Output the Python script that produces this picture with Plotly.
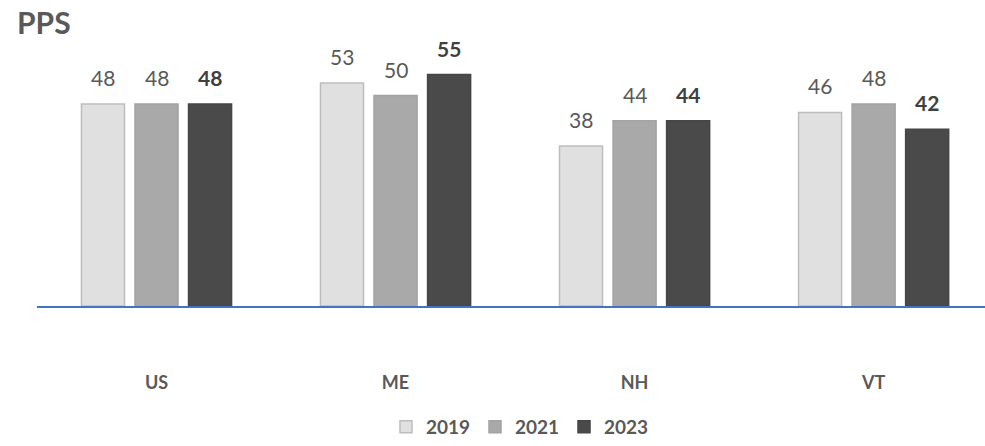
import plotly.graph_objects as go

# Chart data
categories = ["US", "ME", "NH", "VT"]
years = ["2019", "2021", "2023"]
values_2019 = [48, 53, 38, 46]
values_2021 = [48, 50, 44, 48]
values_2023 = [48, 55, 44, 42]

series = [
    ("2019", values_2019, "#e0e0e0", "#bdbdbd", "{}", "#595959"),
    ("2021", values_2021, "#a9a9a9", "#a3a3a3", "{}", "#595959"),
    ("2023", values_2023, "#4a4a4a", "#464646", "<b>{}</b>", "#404040"),
]

# Layout geometry
W, H = 985, 446
ML, MR, MT, MB = 37, 0, 40, 136
X_RANGE = [-0.5, 3.466]
BARGAP = 0.328
BARGROUPGAP = 0.196

plot_w = W - ML - MR
cat_px = plot_w / (X_RANGE[1] - X_RANGE[0])
slot_px = cat_px * (1 - BARGAP) / len(series)

FONT = "Lato, Open Sans, sans-serif"

fig = go.Figure()
for i, (name, vals, fill, edge, tmpl, tcolor) in enumerate(series):
    fig.add_trace(go.Bar(
        name=name,
        x=categories,
        y=vals,
        marker=dict(color=fill, line=dict(color=edge, width=1.5)),
        cliponaxis=False,
    ))
    # value labels above each bar, sitting a little higher than the default outside text
    for cat, v in zip(categories, vals):
        fig.add_annotation(
            x=cat, y=v, xref="x", yref="y",
            text=tmpl.format(v),
            showarrow=False,
            xanchor="center", yanchor="bottom",
            xshift=(i - (len(series) - 1) / 2) * slot_px,
            yshift=12,
            font=dict(family=FONT, size=21, color=tcolor),
        )

fig.add_annotation(
    text="<b>PPS</b>",
    xref="paper", yref="paper",
    x=(15 - ML) / plot_w, y=1 + (MT - 22) / (H - MT - MB),
    xanchor="left", yanchor="middle",
    showarrow=False,
    font=dict(family=FONT, size=30, color="#595959"),
)

fig.update_layout(
    width=W,
    height=H,
    margin=dict(l=ML, r=MR, t=MT, b=MB),
    paper_bgcolor="white",
    plot_bgcolor="white",
    barmode="group",
    bargap=BARGAP,
    bargroupgap=BARGROUPGAP,
    showlegend=True,
    legend=dict(
        orientation="h",
        x=(386 - ML) / plot_w, xanchor="left",
        y=-(433 - (H - MB)) / (H - MT - MB), yanchor="middle",
        font=dict(family=FONT, size=19, color="#595959", weight="bold"),
        itemwidth=30,
        entrywidth=44,
        entrywidthmode="pixels",
        traceorder="normal",
    ),
    font=dict(family=FONT),
)

fig.update_xaxes(
    range=X_RANGE,
    showline=True,
    linecolor="#4472c4",
    linewidth=2,
    showgrid=False,
    ticks="",
    ticklabelstandoff=59,
    tickfont=dict(family="Liberation Sans Narrow, Lato, sans-serif", size=18, color="#595959", weight="bold"),
)
fig.update_yaxes(
    range=[0, 63.2],
    visible=False,
    showgrid=False,
    zeroline=False,
)

fig.write_html("out.html")
